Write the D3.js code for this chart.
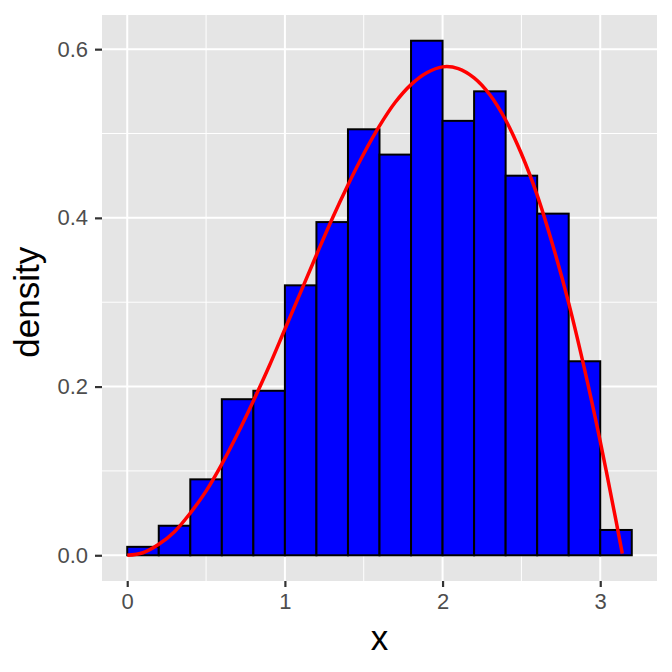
<!DOCTYPE html>
<html>
<head>
<meta charset="utf-8">
<script src="https://cdn.jsdelivr.net/npm/d3@7"></script>
<style>
  body { margin: 0; background: #fff; }
  text { font-family: "Liberation Sans", Arial, sans-serif; }
</style>
</head>
<body>
<div id="chart"></div>
<script>
// histogram bins (width 0.2), density values
var binStart = [0, 0.2, 0.4, 0.6, 0.8, 1.0, 1.2, 1.4, 1.6, 1.8, 2.0, 2.2, 2.4, 2.6, 2.8, 3.0];
var binDensity = [0.01, 0.035, 0.09, 0.185, 0.195, 0.32, 0.395, 0.505, 0.475, 0.61, 0.515, 0.55, 0.45, 0.405, 0.23, 0.03];
var binWidth = 0.2;

// red curve
var curveX = [0, 0.1, 0.2, 0.3, 0.4, 0.5, 0.6, 0.7, 0.8, 0.9, 1.0, 1.1, 1.2, 1.3, 1.4, 1.5, 1.6, 1.7,
              1.8, 1.9, 2.0, 2.1, 2.2, 2.3, 2.4, 2.5, 2.6, 2.7, 2.8, 2.9, 3.0, 3.1, 3.14];
var curveY = [0, 0.003, 0.013, 0.028, 0.050, 0.076, 0.108, 0.144, 0.183, 0.224, 0.268, 0.312, 0.356,
              0.399, 0.439, 0.476, 0.509, 0.537, 0.558, 0.572, 0.579, 0.577, 0.566, 0.546, 0.516,
              0.476, 0.427, 0.367, 0.299, 0.221, 0.135, 0.041, 0.002];

var xTicks = [0, 1, 2, 3];
var yTicks = [0, 0.2, 0.4, 0.6];
var xMinor = [0.5, 1.5, 2.5];
var yMinor = [0.1, 0.3, 0.5];

var width = 672, height = 672;
var margin = {top: 15, right: 15, bottom: 91, left: 102};

var svg = d3.select("#chart").append("svg")
    .attr("width", width)
    .attr("height", height);

var x = d3.scaleLinear()
    .domain([-0.16, 3.36])
    .range([margin.left, width - margin.right]);

var y = d3.scaleLinear()
    .domain([-0.0305, 0.6405])
    .range([height - margin.bottom, margin.top]);

// panel background
svg.append("rect")
    .attr("x", margin.left)
    .attr("y", margin.top)
    .attr("width", width - margin.left - margin.right)
    .attr("height", height - margin.top - margin.bottom)
    .attr("fill", "#e5e5e5");

var grid = svg.append("g");

grid.selectAll(".xminor").data(xMinor).enter().append("line")
    .attr("x1", function(d) { return x(d); })
    .attr("x2", function(d) { return x(d); })
    .attr("y1", margin.top)
    .attr("y2", height - margin.bottom)
    .attr("stroke", "#fff")
    .attr("stroke-width", 1);

grid.selectAll(".yminor").data(yMinor).enter().append("line")
    .attr("y1", function(d) { return y(d); })
    .attr("y2", function(d) { return y(d); })
    .attr("x1", margin.left)
    .attr("x2", width - margin.right)
    .attr("stroke", "#fff")
    .attr("stroke-width", 1);

grid.selectAll(".xmajor").data(xTicks).enter().append("line")
    .attr("x1", function(d) { return x(d); })
    .attr("x2", function(d) { return x(d); })
    .attr("y1", margin.top)
    .attr("y2", height - margin.bottom)
    .attr("stroke", "#fff")
    .attr("stroke-width", 2);

grid.selectAll(".ymajor").data(yTicks).enter().append("line")
    .attr("y1", function(d) { return y(d); })
    .attr("y2", function(d) { return y(d); })
    .attr("x1", margin.left)
    .attr("x2", width - margin.right)
    .attr("stroke", "#fff")
    .attr("stroke-width", 2);

// bars
svg.append("g").selectAll("rect")
    .data(binStart)
    .enter().append("rect")
    .attr("x", function(d) { return x(d); })
    .attr("y", function(d, i) { return y(binDensity[i]); })
    .attr("width", function(d) { return x(d + binWidth) - x(d); })
    .attr("height", function(d, i) { return y(0) - y(binDensity[i]); })
    .attr("fill", "#0000ff")
    .attr("stroke", "#000")
    .attr("stroke-width", 2);

// density curve
var line = d3.line()
    .x(function(d, i) { return x(curveX[i]); })
    .y(function(d) { return y(d); })
    .curve(d3.curveCatmullRom);

svg.append("path")
    .datum(curveY)
    .attr("d", line)
    .attr("fill", "none")
    .attr("stroke", "#ff0000")
    .attr("stroke-width", 3.5);

// axes
var xAxis = svg.append("g")
    .attr("transform", "translate(0," + (height - margin.bottom) + ")")
    .call(d3.axisBottom(x).tickValues(xTicks).tickSize(6).tickPadding(6).tickFormat(d3.format("d")));

var yAxis = svg.append("g")
    .attr("transform", "translate(" + margin.left + ",0)")
    .call(d3.axisLeft(y).tickValues(yTicks).tickSize(7).tickPadding(7).tickFormat(d3.format(".1f")));

[xAxis, yAxis].forEach(function(a) {
    a.select(".domain").remove();
    a.selectAll(".tick line").attr("stroke", "#333").attr("stroke-width", 2.2);
    a.selectAll(".tick text")
        .attr("fill", "#4d4d4d")
        .style("font-size", "22px")
        .style("font-family", "'Liberation Sans', Arial, sans-serif");
});

svg.append("text")
    .attr("x", x(1.6))
    .attr("y", 650)
    .attr("text-anchor", "middle")
    .style("font-size", "35px")
    .attr("fill", "#000")
    .text("x");

svg.append("text")
    .attr("transform", "translate(39," + y(0.3) + ") rotate(-90)")
    .attr("text-anchor", "middle")
    .style("font-size", "35px")
    .attr("fill", "#000")
    .text("density");
</script>
</body>
</html>
